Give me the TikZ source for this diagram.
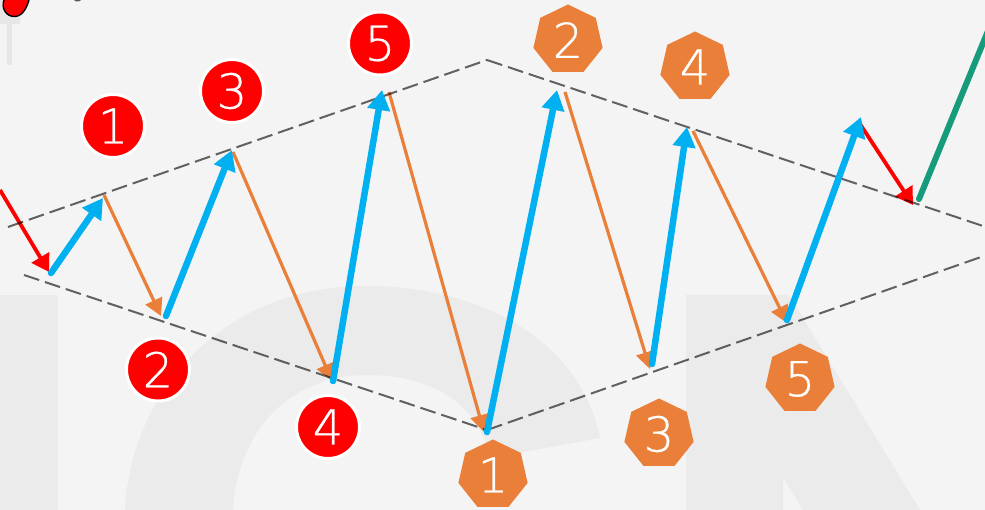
\documentclass[tikz,border=0pt]{standalone}
\usepackage{fontspec}
\setmainfont{DejaVu Sans ExtraLight}[FakeBold=0.6]
\usetikzlibrary{arrows.meta,shapes.geometric}
\definecolor{bgc}{HTML}{F4F4F4}
\definecolor{wm}{HTML}{EBEBEB}
\definecolor{pinc}{HTML}{E6E6E6}
\definecolor{bluec}{HTML}{00B0F0}
\definecolor{orangec}{HTML}{E97F38}
\definecolor{greenc}{HTML}{169B7C}
\definecolor{redc}{HTML}{FF0000}
\tikzset{
  numtext/.style={text=white,font=\fontsize{48}{48}\selectfont},
  redbadge/.style={circle,fill=redc,draw=white,line width=3pt,minimum size=63pt,inner sep=0pt,numtext},
  hepta/.style={regular polygon,regular polygon sides=7,fill=orangec,minimum size=71pt,inner sep=0pt},
  chan/.style={black,opacity=0.6,line width=2pt,dash pattern=on 16pt off 6pt},
  upleg/.style={bluec,line width=6.5pt,line cap=round,-{Triangle[length=20pt,width=22pt]}},
  downleg/.style={orangec,line width=3.2pt,-{Triangle[length=17pt,width=18pt]}},
  redleg/.style={redc,line width=3.8pt,-{Triangle[length=17pt,width=20pt]}},
  greenleg/.style={greenc,line width=6pt,line cap=round},
}
\begin{document}
\begin{tikzpicture}[x=1pt,y=-1pt]
\useasboundingbox (0,0) rectangle (985,510);
\fill[bgc] (0,0) rectangle (985,510);
% watermark
\fill[wm] (0,295) rectangle (58,510);
\fill[wm] (125,510) .. controls (130,400) and (215,286) .. (367,286)
  .. controls (480,286) and (580,340) .. (600,438)
  -- (490,458) .. controls (480,410) and (440,375) .. (367,375)
  .. controls (290,375) and (238,430) .. (233,510) -- cycle;
\fill[wm] (686,295) -- (789,295) -- (920,510) -- (803,510) -- (783,477) -- (783,510) -- (686,510) -- cycle;
% pin at top left
\fill[pinc] (0,0) rectangle (20,24);
\fill[pinc] (7,24) rectangle (12,65);
\draw[black,line width=1.4pt,fill=redc] (4,0) .. controls (1,8) and (6,17) .. (15,16.5) .. controls (23,16) and (27,7) .. (29,0);
\fill[black!65] (74,0) -- (81,0) .. controls (80,2) and (75,2) .. (74,0) -- cycle;
% waypoints
\coordinate (ul) at (8,227); \coordinate (ut) at (487,60); \coordinate (ur) at (983,226);
\coordinate (ll) at (24,275); \coordinate (lb) at (487,430); \coordinate (lr) at (981,257);
\coordinate (a0) at (0,190); \coordinate (a1) at (49,272);
\coordinate (b1) at (51,273); \coordinate (b2) at (103,198);
\coordinate (c1) at (104,195); \coordinate (c2) at (161,316);
\coordinate (d1) at (166,316); \coordinate (d2) at (232,150);
\coordinate (e1) at (233,152); \coordinate (e2) at (332,381);
\coordinate (f1) at (333,381); \coordinate (f2) at (382,90);
\coordinate (g1) at (389,92); \coordinate (g2) at (484,432);
\coordinate (h1) at (487,432); \coordinate (h2) at (557,90);
\coordinate (i1) at (565,92); \coordinate (i2) at (650,369);
\coordinate (j1) at (652,364); \coordinate (j2) at (687,127);
\coordinate (k1) at (693,131); \coordinate (k2) at (787,323);
\coordinate (m1) at (787,320); \coordinate (m2) at (861,117);
\coordinate (n1) at (860,124); \coordinate (n2) at (913,205);
\coordinate (o1) at (919,199); \coordinate (o2) at (990,26);
% legs below the channel
\draw[redleg] (a0) -- (a1);
\draw[downleg] (c1) -- (c2);
\draw[downleg] (e1) -- (e2);
\draw[downleg] (g1) -- (g2);
\draw[downleg] (i1) -- (i2);
\draw[downleg] (k1) -- (k2);
\draw[redleg] (n1) -- (n2);
% channel
\draw[chan] (ul) -- (ut);
\draw[chan] (ut) -- (ur);
\draw[chan] (ll) -- (lb);
\draw[chan] (lb) -- (lr);
% legs above the channel
\draw[upleg] (b1) -- (b2);
\draw[upleg] (d1) -- (d2);
\draw[upleg] (f1) -- (f2);
\draw[upleg] (h1) -- (h2);
\draw[upleg] (j1) -- (j2);
\draw[upleg] (m1) -- (m2);
\draw[greenleg] (o1) -- (o2);
% badges
\node[redbadge] (r1) at (113,126) {1};
\node[redbadge] (r2) at (158,369.5) {2};
\node[redbadge] (r3) at (232,91) {3};
\node[redbadge] (r4) at (328,427) {4};
\node[redbadge] (r5) at (380,43.5) {5};
\node[hepta] (h1n) at (493,475) {};
\node[hepta] (h2n) at (568,40) {};
\node[hepta] (h3n) at (659,434) {};
\node[hepta] (h4n) at (695,67) {};
\node[hepta] (h5n) at (800,379) {};
\node[numtext] at (h1n) {1};
\node[numtext] at (h2n) {2};
\node[numtext] at (h3n) {3};
\node[numtext] at (h4n) {4};
\node[numtext] at (h5n) {5};
\end{tikzpicture}
\end{document}
